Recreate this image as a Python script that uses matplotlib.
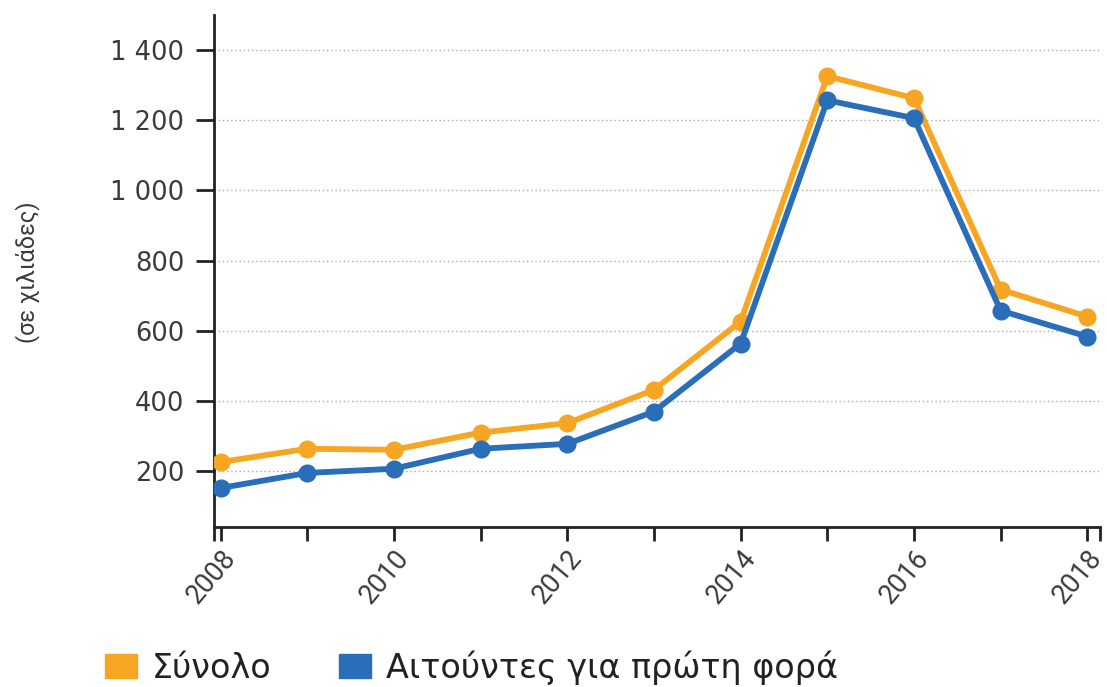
import numpy as np
import matplotlib.pyplot as plt
from matplotlib.patches import Patch
from matplotlib.ticker import FuncFormatter

plt.rcParams['font.family'] = ['Roboto', 'DejaVu Sans']

years = np.arange(2008, 2019)
total = [225, 263, 260, 309, 336, 431, 626, 1326, 1263, 717, 640]
first_time = [151, 194, 206, 263, 277, 369, 563, 1257, 1206, 657, 583]

orange = "#F6A623"
blue = "#2A6DB9"
ink = "#3a3a3a"

fig = plt.figure(figsize=(11.07, 6.87), dpi=100)
ax = fig.add_axes([0.193, 0.233, 0.801, 0.745])

ax.plot(years, total, color=orange, lw=4.2, marker="o", ms=12, zorder=3)
ax.plot(years, first_time, color=blue, lw=4.2, marker="o", ms=12, zorder=4)

x_lo, x_hi = 2007.92, 2018.15
ax.set_xlim(x_lo, x_hi)
ax.set_ylim(40, 1500)

ax.set_yticks([200, 400, 600, 800, 1000, 1200, 1400])
ax.yaxis.set_major_formatter(FuncFormatter(lambda v, p: f"{v:,.0f}".replace(",", " ")))
ax.set_xticks(years)
ax.set_xticklabels([str(y) if y % 2 == 0 else "" for y in years], rotation=50,
                   ha="right", rotation_mode="anchor", fontsize=19.5, color=ink)
# outer ticks at both ends of the x domain
ax.set_xticks([x_lo, x_hi], minor=True)
for lab in ax.get_yticklabels():
    lab.set_fontsize(18.5)
    lab.set_color(ink)
    lab.set_family(["DejaVu Sans"])

ax.yaxis.grid(True, linestyle=(0, (1, 2)), color="#aaaaaa", lw=1)
ax.set_axisbelow(True)
for s in ["top", "right"]:
    ax.spines[s].set_visible(False)
for s in ["left", "bottom"]:
    ax.spines[s].set_linewidth(2)
    ax.spines[s].set_color("#222")
ax.tick_params(axis="y", length=13, width=2, color="#222", pad=8)
ax.tick_params(axis="x", which="both", length=10, width=2, color="#222", pad=3)

ax.set_ylabel("(σε χιλιάδες)", fontsize=17, color=ink,
              family=["Liberation Sans Narrow", "Roboto", "DejaVu Sans"])
ax.yaxis.set_label_coords(-0.196, 0.498)

handles = [Patch(color=orange, label="Σύνολο"),
           Patch(color=blue, label="Αιτούντες για πρώτη φορά")]
fig.legend(handles=handles, loc="center left", bbox_to_anchor=(0.095, 0.028),
           ncol=2, frameon=False, borderpad=0, borderaxespad=0,
           handlelength=0.96, handleheight=0.72, handletextpad=0.45,
           columnspacing=2.0, labelcolor="#222",
           prop={"family": "DejaVu Sans", "size": 24})

fig.savefig("out.png", dpi=100)
